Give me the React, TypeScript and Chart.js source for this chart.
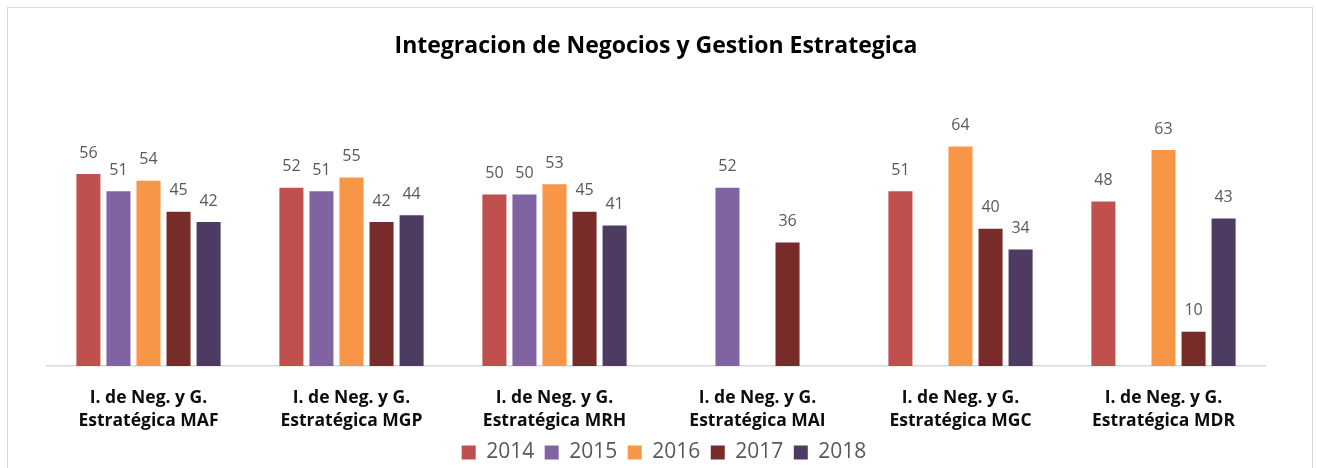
import React, { useEffect, useRef } from "react";
import { Chart, registerables } from "chart.js";

Chart.register(...registerables);

const TITLE = "Integracion de Negocios y Gestion Estrategica";
const categories: string[][] = [
  ["I. de Neg. y G.", "Estratégica MAF"],
  ["I. de Neg. y G.", "Estratégica MGP"],
  ["I. de Neg. y G.", "Estratégica MRH"],
  ["I. de Neg. y G.", "Estratégica MAI"],
  ["I. de Neg. y G.", "Estratégica MGC"],
  ["I. de Neg. y G.", "Estratégica MDR"],
];
const seriesNames = ["2014", "2015", "2016", "2017", "2018"];
const v2014 = [56, 52, 50, null, 51, 48];
const v2015 = [51, 51, 50, 52, null, null];
const v2016 = [54, 55, 53, null, 64, 63];
const v2017 = [45, 42, 45, 36, 40, 10];
const v2018 = [42, 44, 41, null, 34, 43];
const colors = ["#C0504D", "#8064A2", "#F79646", "#772C2A", "#4D3B62"];

const FONT = "'Open Sans', sans-serif";

const dataLabels = {
  id: "dataLabels",
  afterDatasetsDraw(chart: any) {
    const ctx = chart.ctx;
    ctx.save();
    ctx.font = `16px ${FONT}`;
    ctx.fillStyle = "#595959";
    ctx.textAlign = "center";
    ctx.textBaseline = "middle";
    chart.data.datasets.forEach((ds: any, i: number) => {
      const meta = chart.getDatasetMeta(i);
      meta.data.forEach((el: any, j: number) => {
        const v = ds.data[j];
        if (v === null || v === undefined) return;
        ctx.fillText(String(v), el.x, el.y - 21);
      });
    });
    ctx.restore();
  },
};

const legendShift = {
  id: "legendShift",
  afterLayout(chart: any) {
    const lg = chart.legend;
    if (lg) {
      lg.left += 8;
      lg.right += 8;
      lg.top += 1;
      lg.bottom += 1;
    }
  },
};

export default function App() {
  const ref = useRef<HTMLCanvasElement>(null);
  useEffect(() => {
    if (!ref.current) return;
    const all = [v2014, v2015, v2016, v2017, v2018];
    const chart = new Chart(ref.current, {
      type: "bar",
      data: {
        labels: categories,
        datasets: seriesNames.map((n, i) => ({
          label: n,
          data: all[i],
          backgroundColor: colors[i],
          borderWidth: 0,
          barPercentage: 0.8,
          categoryPercentage: 0.74,
        })),
      },
      options: {
        responsive: false,
        animation: false,
        devicePixelRatio: 1,
        layout: { padding: { left: 47, right: 52, top: 33, bottom: 0 } },
        plugins: {
          title: {
            display: true,
            text: TITLE,
            color: "#000000",
            font: { family: FONT, size: 23, weight: "bold", lineHeight: 1.2 },
            padding: { top: 0, bottom: 65.4 },
          },
          legend: {
            position: "bottom",
            labels: {
              boxWidth: 14,
              boxHeight: 14,
              padding: 10.5,
              color: "#595959",
              font: { family: FONT, size: 21 },
            },
          },
          tooltip: { enabled: false },
        },
        scales: {
          y: { display: false, min: 0, max: 70 },
          x: {
            afterFit: (scale: any) => {
              scale.height = 64.5;
            },
            grid: { display: false, drawTicks: false },
            border: { display: true, color: "#d9d9d9", width: 1.5 },
            ticks: {
              color: "#0d0d0d",
              padding: 20,
              maxRotation: 0,
              autoSkip: false,
              font: { family: FONT, size: 17.5, weight: "bold", lineHeight: 1.343 },
            },
          },
        },
      },
      plugins: [dataLabels, legendShift],
    });
    return () => chart.destroy();
  }, []);
  return (
    <>
      <div
        style={{
          position: "fixed",
          left: 0,
          top: 0,
          width: 1317,
          height: 468,
          overflow: "hidden",
          background: "#fff",
        }}
      >
        <canvas ref={ref} width={1317} height={472} style={{ display: "block" }} />
      </div>
      <div
        style={{
          position: "fixed",
          left: 7,
          top: 7,
          width: 1306,
          height: 500,
          border: "1px solid #d9d9d9",
          boxSizing: "border-box",
          pointerEvents: "none",
        }}
      />
    </>
  );
}
